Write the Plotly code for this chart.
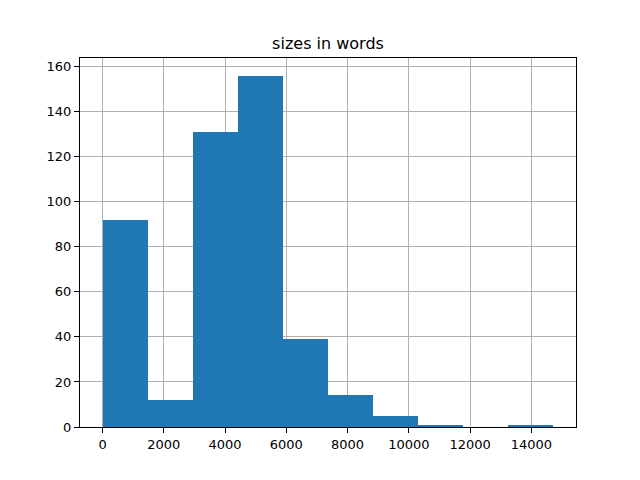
import plotly.graph_objects as go

# histogram of document sizes (10 bins)
bin_start = 0
bin_width = 1472
counts = [92, 12, 131, 156, 39, 14, 5, 1, 0, 1]
x_ticks = [0, 2000, 4000, 6000, 8000, 10000, 12000, 14000]
y_ticks = [0, 20, 40, 60, 80, 100, 120, 140, 160]

centers = [bin_start + bin_width * (i + 0.5) for i in range(len(counts))]
x_end = bin_start + bin_width * len(counts)
pad = 0.05 * (x_end - bin_start)

fig = go.Figure()
fig.add_trace(go.Bar(
    x=centers,
    y=counts,
    width=bin_width,
    marker=dict(color="#1f77b4", line=dict(width=0)),
))

axis_style = dict(
    showline=True, linecolor="black", linewidth=1, mirror=True,
    ticks="outside", ticklen=5, tickcolor="black",
    showgrid=True, gridcolor="#b0b0b0", gridwidth=1,
    zeroline=False, layer="above traces",
    tickfont=dict(family="DejaVu Sans", size=13, color="black"),
)

# page body has an 8px margin, so margins are trimmed to match
fig.update_layout(
    width=640, height=480,
    margin=dict(l=72, r=72, t=50, b=61),
    paper_bgcolor="white", plot_bgcolor="white",
    showlegend=False,
    title=dict(text="sizes in words", x=0.5, xref="paper", xanchor="center",
               y=1 - 35 / 480, yanchor="middle",
               font=dict(family="DejaVu Sans", size=16, color="black")),
    xaxis=dict(range=[bin_start - pad, x_end + pad], tickvals=x_ticks,
               ticktext=[str(v) for v in x_ticks], **axis_style),
    yaxis=dict(range=[0, max(counts) * 1.05], tickvals=y_ticks,
               ticktext=[str(v) for v in y_ticks], **axis_style),
    bargap=0,
)

fig.write_html("out.html")
